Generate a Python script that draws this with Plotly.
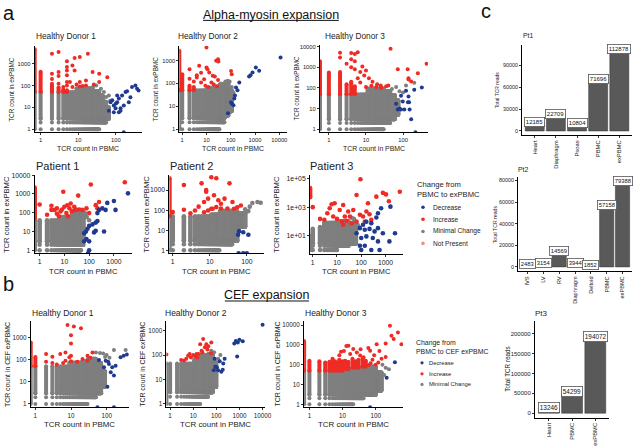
import plotly.graph_objects as go

W, H = 639, 447
FONT = "Liberation Sans, Arial, sans-serif"
RED, BLUE, GRAY, SALMON = "#EE2B24", "#1F3A8F", "#7F7F7F", "#F4907E"
BARC = "#595959"
TXT = "#222222"

# ======================= DATA =======================
# Scatter data: PBMC count (x) vs expanded count (y). 0 = not detected (drawn on the axis edge, like ggplot -Inf)
# *_GRAY_COLS: (x_from, x_to, y_from, y_to) integer-count columns of "Minimal Change" clonotypes
# *_RUNS: (x, y_from, y_to) dense stacks of clonotypes at one PBMC count

# ---- a: Healthy Donor 1 ----
A1_GRAY_COLS = [(1, 8, 1, 50), (9, 24, 1, 75), (25, 36, 1, 55), (37, 45, 2, 35), (46, 55, 2, 18), (56, 65, 3, 10)]
A1_GRAY_RUNS = [(0, 1, 50)]
A1_GRAY_PTS = [(48, 50), (65, 35), (30, 100), (40, 70), (70, 20), (25, 90), (55, 30)]
A1_RED_RUNS = [(0, 50, 4500), (1, 50, 420), (2, 50, 100), (3, 50, 80), (4, 50, 65), (5, 50, 60)]
A1_RED_PTS = [(2, 2800), (3, 3400), (5, 1270), (8, 1800), (11, 2000), (18, 2800), (5, 700), (7, 830), (5, 490),
              (8, 490), (3, 410), (5, 290), (3, 270), (2, 340), (5, 144), (6, 144), (11, 144), (16, 170), (24, 410),
              (36, 340), (59, 240), (16, 100), (11, 90), (26, 110), (7, 84), (5, 100), (3, 120), (2, 120), (2, 200),
              (4, 84), (36, 144), (9, 110), (13, 95)]
A1_BLUE_PTS = [(65, 7), (88, 12), (108, 17), (80, 21), (120, 25), (98, 9), (133, 9), (162, 12), (146, 35), (180, 50),
               (243, 29), (268, 84), (330, 100), (365, 70), (400, 59), (220, 17), (88, 6), (120, 6), (133, 7),
               (100, 15), (72, 17), (108, 35), (198, 54), (162, 0)]

# ---- a: Healthy Donor 2 ----
A2_GRAY_COLS = [(1, 10, 1, 50), (11, 34, 1, 65), (35, 55, 2, 90), (56, 80, 4, 100), (81, 110, 6, 50)]
A2_GRAY_RUNS = [(0, 1, 50)]
A2_GRAY_PTS = [(75, 130), (90, 120), (110, 70), (130, 40), (60, 120), (40, 100)]
A2_RED_RUNS = [(0, 50, 2700), (1, 50, 250), (2, 50, 80), (3, 50, 70)]
A2_RED_PTS = [(2, 420), (4, 230), (5, 590), (4, 180), (6, 110), (10, 3700), (11, 420), (6, 290), (8, 154), (16, 110),
              (22, 200), (25, 980), (10, 500), (13, 300), (18, 215), (30, 1140), (31, 900), (30, 140), (103, 350),
              (110, 250), (9, 80), (20, 90), (3, 120), (2, 160), (12, 70), (27, 75)]
A2_BLUE_PTS = [(11300, 1350), (1080, 500), (1480, 360), (790, 300), (650, 230), (570, 200), (225, 110), (165, 67),
               (190, 50), (103, 15), (77, 5), (110, 13), (130, 11), (150, 30), (140, 22)]

# ---- a: Healthy Donor 3 ----
A3_GRAY_COLS = [(1, 10, 1, 50), (11, 30, 1, 95), (31, 45, 2, 70), (46, 60, 3, 45), (61, 75, 5, 25)]
A3_GRAY_RUNS = [(0, 1, 50)]
A3_GRAY_PTS = [(50, 90), (65, 110), (80, 70), (100, 60), (200, 180), (120, 130)]
A3_RED_RUNS = [(0, 50, 2000), (1, 50, 560), (2, 50, 600), (3, 50, 150), (4, 50, 200), (5, 50, 120)]
A3_RED_PTS = [(2, 5100), (4, 5000), (5, 4500), (6, 5500), (2, 3000), (4, 2500), (5, 2000), (3, 1500), (4, 1000),
              (5, 800), (7, 600), (8, 1100), (10, 700), (7, 184), (10, 110), (14, 127), (19, 110), (26, 100),
              (12, 300), (15, 200), (20, 150), (25, 130), (35, 120), (46, 8000), (430, 1500), (250, 520),
              (133, 800), (165, 205), (140, 300), (72, 800), (140, 260), (40, 130), (9, 400), (6, 300)]
A3_BLUE_PTS = [(65, 17), (80, 10), (108, 9), (200, 82), (145, 20), (320, 105), (120, 73), (88, 42), (140, 39),
               (98, 22), (135, 20), (72, 9), (88, 9), (150, 9), (165, 3), (215, 0)]

# ---- a: Patient 1 ----
B1_GRAY_COLS = [(1, 6, 1, 40), (7, 20, 1, 60), (21, 46, 1, 100), (47, 58, 2, 80)]
B1_GRAY_RUNS = [(0, 1, 40)]
B1_GRAY_PTS = [(40, 120), (60, 110), (80, 60), (100, 40), (30, 130), (70, 90)]
B1_RED_RUNS = [(0, 50, 2200)]
B1_RED_PTS = [(1, 275), (3, 235), (9, 1320), (5, 172), (4, 142), (7, 117), (5, 89), (10, 210), (12, 96), (16, 172),
              (18, 310), (25, 210), (36, 820), (117, 3200), (184, 255), (250, 375), (215, 172), (14, 65), (40, 150),
              (54, 142), (78, 172), (100, 96), (2750, 4200), (26, 140), (6, 65), (3, 142), (2, 79), (8, 150),
              (20, 120), (30, 150), (13, 250)]
B1_BLUE_PTS = [(3700, 1080), (1000, 420), (1160, 142), (540, 335), (250, 142), (340, 172), (460, 142), (215, 96),
               (184, 30), (136, 24), (100, 20), (86, 14), (74, 10), (63, 8), (78, 4), (63, 3), (100, 3), (158, 9),
               (215, 36), (184, 11), (400, 10), (100, 1), (90, 0)]

# ---- a: Patient 2 ----
B2_GRAY_COLS = [(1, 10, 1, 50), (11, 18, 1, 60), (19, 40, 2, 90), (41, 55, 3, 85), (56, 90, 15, 70)]
B2_GRAY_RUNS = [(0, 1, 50)]
B2_GRAY_PTS = [(141, 226), (194, 255), (237, 235), (120, 150), (90, 110), (110, 90)]
B2_RED_RUNS = [(0, 50, 3900)]
B2_RED_PTS = [(1, 80), (2, 1780), (2, 104), (4, 96), (7, 255), (8, 820), (9, 96), (12, 117), (15, 142), (6, 2170),
              (8, 1000), (11, 4400), (15, 3900), (13, 550), (9, 375), (17, 310), (34, 2170), (20, 210), (25, 375),
              (41, 255), (45, 117), (69, 172), (30, 120), (11, 117), (7, 79), (3, 70), (5, 150), (20, 120), (55, 140)]
B2_BLUE_PTS = [(62, 9), (80, 8), (58, 6), (110, 6), (60, 0), (80, 0), (100, 0)]

# ---- a: Patient 3 ----
B3_GRAY_COLS = [(1, 1, 1, 30), (2, 2, 1, 40), (3, 10, 1, 80), (11, 30, 2, 100), (31, 60, 3, 70)]
B3_GRAY_RUNS = [(0, 1, 10)]
B3_GRAY_PTS = [(70, 60), (80, 40), (50, 150), (40, 180)]
B3_RED_RUNS = [(0, 5000, 22000)]
B3_RED_PTS = [(93, 89000), (6, 1580), (8, 1850), (13, 630), (18, 1400), (29, 490), (47, 630), (64, 7000), (21, 220),
              (7, 220), (4, 370), (3, 130), (2, 150), (10, 150), (16, 99), (25, 110), (34, 220), (88, 290),
              (119, 220), (163, 490), (220, 320), (140, 99), (260, 130), (190, 1850), (780, 10000), (1050, 7800),
              (3900, 12000), (1380, 2600), (420, 5400), (5, 830), (18, 58), (40, 76), (64, 99), (1, 1000)]
B3_BLUE_PTS = [(1600, 1080), (660, 830), (490, 370), (420, 190), (260, 76), (163, 95), (119, 58), (88, 34), (140, 26),
               (220, 30), (355, 20), (490, 34), (780, 15), (100, 7), (163, 9), (300, 7), (490, 4), (1450, 4),
               (2470, 15), (88, 2), (140, 2), (260, 1), (100, 1), (64, 15), (570, 1)]

# ---- b: Healthy Donor 1 (CEF) ----
C1_GRAY_COLS = [(1, 8, 1, 50), (9, 20, 1, 75), (21, 29, 1, 85), (30, 50, 2, 110), (51, 70, 3, 70), (71, 90, 6, 30)]
C1_GRAY_RUNS = [(0, 1, 50)]
C1_GRAY_PTS = [(50, 210), (65, 200), (80, 190), (100, 160), (160, 270), (340, 270), (120, 120), (90, 130)]
C1_RED_RUNS = [(0, 50, 600), (1, 50, 130)]
C1_RED_PTS = [(8, 3700), (12, 3100), (19, 2600), (10, 1270), (10, 540), (7, 210), (5, 180), (2, 180), (3, 135),
              (9, 127), (10, 84), (21, 107), (29, 150), (40, 210), (29, 90), (10, 150), (7, 90), (6, 70), (4, 60),
              (15, 80), (2, 80), (3, 70), (35, 120)]
C1_BLUE_PTS = [(61, 96), (94, 90), (116, 64), (143, 45), (130, 27), (160, 19), (84, 45), (105, 6), (245, 127),
               (300, 150), (370, 170), (178, 53), (55, 0), (160, 0), (110, 80)]

# ---- b: Healthy Donor 2 (CEF) ----
C2_GRAY_COLS = [(1, 10, 1, 45), (11, 20, 1, 65), (21, 44, 2, 100), (45, 70, 3, 110), (71, 100, 5, 50)]
C2_GRAY_RUNS = [(0, 1, 45)]
C2_GRAY_PTS = [(60, 150), (80, 130), (120, 70), (150, 100)]
C2_RED_RUNS = []
C2_RED_PTS = [(0, 105), (3, 63), (6, 95), (7, 110), (8, 80), (14, 110), (15, 80), (17, 110), (27, 450), (37, 280),
              (41, 170), (45, 230), (59, 120), (61, 330), (32, 210), (23, 150), (20, 280), (10, 100), (12, 90),
              (5, 70), (4, 60), (25, 130)]
C2_BLUE_PTS = [(10100, 1740), (1400, 365), (850, 330), (800, 87), (230, 70), (140, 56), (105, 32), (120, 24),
               (190, 25), (165, 21), (85, 70), (90, 33), (78, 24), (600, 300), (700, 380), (1000, 420), (200, 45)]

# ---- b: Healthy Donor 3 (CEF) ----
C3_GRAY_COLS = [(1, 10, 1, 50), (11, 21, 1, 60), (22, 43, 2, 70), (44, 100, 3, 80), (101, 150, 5, 40)]
C3_GRAY_RUNS = [(0, 1, 50)]
C3_GRAY_PTS = [(160, 100), (200, 70), (250, 60), (180, 30)]
C3_RED_RUNS = [(0, 50, 1600), (1, 50, 160), (2, 50, 150), (3, 50, 130), (4, 50, 140), (5, 50, 200), (6, 50, 150),
               (7, 50, 120), (8, 50, 180), (10, 50, 150), (12, 60, 160), (15, 60, 140), (20, 70, 200), (25, 70, 150),
               (30, 70, 180), (40, 80, 200), (50, 80, 150)]
C3_RED_PTS = [(15, 920), (21, 620), (27, 420), (34, 290), (43, 240), (17, 350), (107, 1100), (270, 9300),
              (470, 4300), (600, 1100), (300, 2900), (68, 510), (43, 130), (120, 130), (50, 160), (150, 200),
              (200, 250), (90, 300), (60, 700), (13, 900), (11, 500), (80, 180), (35, 600), (130, 500), (200, 1200),
              (350, 2000), (8, 300), (9, 450), (70, 120), (100, 100), (60, 95)]
C3_BLUE_PTS = [(380, 133), (215, 22), (68, 0)]

# ---- tick labels of scatter panels ----
XT_A1 = [1, 10, 100]; YT_A1 = [1, 10, 100, 1000]
XT_A2 = [1, 10, 100, 1000, 10000]; YT_A2 = [1, 10, 100, 1000]
XT_A3 = [1, 10, 100]; YT_A3 = [1, 10, 100, 1000, 10000]
XT_B1 = [1, 10, 100, 1000]; YT_B1 = [1, 10, 100, 1000, 10000]
XT_B2 = [1, 10, 100]; YT_B2 = [1, 10, 100, 1000]
XT_B3 = [1, 10, 100, 1000]; YT_B3 = [10, 1000, 100000]; YT_B3_TEXT = ["1e+01", "1e+03", "1e+05"]
XT_C1 = [1, 10, 100]; YT_C1 = [1, 10, 100, 1000]
XT_C2 = [1, 10, 100, 1000, 10000]; YT_C2 = [1, 10, 100, 1000]
XT_C3 = [1, 10, 100]; YT_C3 = [1, 10, 100, 1000, 10000]

PANEL_TITLES_A = ["Healthy Donor 1", "Healthy Donor 2", "Healthy Donor 3", "Patient 1", "Patient 2", "Patient 3"]
PANEL_TITLES_B = ["Healthy Donor 1", "Healthy Donor 2", "Healthy Donor 3"]

# ---- c: total TCR reads ----
PT1_CATS = ["Heart", "Diaphragm", "Psoas", "PBMC", "exPBMC"]
PT1_VALS = [12185, 22709, 10804, 71696, 112878]
PT2_CATS = ["IVS", "LV", "RV", "Diaphragm", "Deltoid", "PBMC", "exPBMC"]
PT2_VALS = [2483, 3154, 14569, 3944, 1852, 57158, 79388]
PT3_CATS = ["Heart", "PBMC", "exPBMC"]
PT3_VALS = [13246, 54299, 194072]
PT1_YT = [0, 30000, 60000, 90000]
PT2_YT = [0, 20000, 40000, 60000, 80000]
PT3_YT = [0, 50000, 100000, 150000, 200000]

LEGEND_A = [("Decrease", BLUE), ("Increase", RED), ("Minimal Change", GRAY), ("Not Present", SALMON)]
LEGEND_B = [("Decrease", BLUE), ("Increase", RED), ("Minimal Change", GRAY)]

# ======================= FIGURE =======================
fig = go.Figure()
layout = dict(width=W, height=H, margin=dict(l=0, r=0, t=0, b=0), paper_bgcolor="white",
              plot_bgcolor="rgba(0,0,0,0)", showlegend=False, font=dict(family=FONT, color=TXT))
ann, shapes = [], []


def fx(p):
    return p / W


def fy(p):
    return 1 - p / H


def names(i):
    return ("x" if i == 1 else f"x{i}"), ("y" if i == 1 else f"y{i}")


def key(i, a):
    return f"{a}axis" + ("" if i == 1 else str(i))


def base_axis(fs):
    return dict(showline=True, linecolor="black", linewidth=1, ticks="outside", ticklen=2, tickwidth=0.8,
                tickcolor="black", showgrid=False, zeroline=False, fixedrange=True,
                tickfont=dict(size=fs, color=TXT, family=FONT))


def text(x, y, s, size, xanchor="left", angle=0, color=TXT):
    ann.append(dict(x=fx(x), y=fy(y), xref="paper", yref="paper", text=s, showarrow=False, xanchor=xanchor,
                    yanchor="middle", textangle=angle, borderpad=0,
                    font=dict(size=size, color=color, family=FONT)))


def scatter_panel(i, data, geo, st):
    cols, gruns, gpts, rruns, rpts, bpts = data
    xa, ya = names(i)
    xr, yr = geo["xr"], geo["yr"]
    xe, ye = 10 ** xr[0], 10 ** yr[0]
    ex = lambda v: xe if v == 0 else v
    ey = lambda v: ye if v == 0 else v
    ms = st["ms"]
    mx, my, lx, ly = [], [], [], []
    for (x0, x1, y0, y1) in cols:
        for x in range(x0, x1 + 1):
            for y in range(y0, min(y1, 3) + 1):
                mx.append(x); my.append(y)
            lo = max(y0, 3)
            if y1 > lo:
                lx += [x, x, None]; ly += [lo, y1, None]
                mx += [x, x]; my += [lo, y1]

    def runs(rs):
        rx, ry, qx, qy = [], [], [], []
        for (x, y0, y1) in rs:
            rx += [ex(x), ex(x), None]; ry += [y0, y1, None]
            qx += [ex(x), ex(x)]; qy += [y0, y1]
        return rx, ry, qx, qy

    grx, gry, gqx, gqy = runs(gruns)
    rrx, rry, rqx, rqy = runs(rruns)
    common = dict(xaxis=xa, yaxis=ya, hoverinfo="skip")
    fig.add_trace(go.Scatter(x=lx + grx, y=ly + gry, mode="lines", line=dict(color=GRAY, width=ms), **common))
    fig.add_trace(go.Scatter(x=mx + gqx + [ex(p[0]) for p in gpts], y=my + gqy + [ey(p[1]) for p in gpts],
                             mode="markers", marker=dict(color=GRAY, size=ms, line=dict(width=0)), **common))
    if rrx:
        fig.add_trace(go.Scatter(x=rrx, y=rry, mode="lines", line=dict(color=RED, width=ms), **common))
    fig.add_trace(go.Scatter(x=rqx + [ex(p[0]) for p in rpts], y=rqy + [ey(p[1]) for p in rpts], mode="markers",
                             marker=dict(color=RED, size=ms, line=dict(width=0)), **common))
    fig.add_trace(go.Scatter(x=[ex(p[0]) for p in bpts], y=[ey(p[1]) for p in bpts], mode="markers",
                             marker=dict(color=BLUE, size=ms, line=dict(width=0)), **common))
    xax = base_axis(st["tick"])
    xax.update(domain=[fx(geo["x"][0]), fx(geo["x"][1])], anchor=ya, type="log", range=list(xr),
               tickvals=geo["xt"], ticktext=[str(v) for v in geo["xt"]])
    yax = base_axis(st["tick"])
    yax.update(domain=[fy(geo["y"][1]), fy(geo["y"][0])], anchor=xa, type="log", range=list(yr),
               tickvals=geo["yt"], ticktext=geo.get("ytext", [str(v) for v in geo["yt"]]))
    layout[key(i, "x")] = xax
    layout[key(i, "y")] = yax
    # titles
    text(geo["tx"], geo["ty"], geo["title"], st["title"])
    text((geo["x"][0] + geo["x"][1]) / 2, st["xty"], "TCR count in PBMC", st["xt"], xanchor="center")
    text(geo["ytx"], (geo["y"][0] + geo["y"][1]) / 2, st["ylab"], st["yt"], xanchor="center", angle=-90)


ST_A1 = dict(tick=5.8, xt=6.9, yt=6.4, title=8.3, ms=4.0, xty=146.5, ylab="TCR count in exPBMC")
ST_A2 = dict(tick=6.8, xt=7.6, yt=7.6, title=11.0, ms=4.6, xty=270, ylab="TCR count in exPBMC")
ST_B = dict(tick=6.3, xt=7.9, yt=6.9, title=8.5, ms=4.0, xty=424, ylab="TCR count in CEF exPBMC")

panels = [
    (1, (A1_GRAY_COLS, A1_GRAY_RUNS, A1_GRAY_PTS, A1_RED_RUNS, A1_RED_PTS, A1_BLUE_PTS),
     dict(x=(35, 143), y=(43, 130), xr=(-0.158, 2.684), yr=(-0.136, 3.82), xt=XT_A1, yt=YT_A1,
          title=PANEL_TITLES_A[0], tx=35, ty=33, ytx=12), ST_A1),
    (2, (A2_GRAY_COLS, A2_GRAY_RUNS, A2_GRAY_PTS, A2_RED_RUNS, A2_RED_PTS, A2_BLUE_PTS),
     dict(x=(181, 290), y=(43, 130), xr=(-0.12, 4.33), yr=(-0.13, 3.65), xt=XT_A2, yt=YT_A2,
          title=PANEL_TITLES_A[1], tx=179, ty=33, ytx=157), ST_A1),
    (3, (A3_GRAY_COLS, A3_GRAY_RUNS, A3_GRAY_PTS, A3_RED_RUNS, A3_RED_PTS, A3_BLUE_PTS),
     dict(x=(323, 432), y=(42, 130), xr=(-0.24, 2.67), yr=(-0.145, 4.1), xt=XT_A3, yt=YT_A3,
          title=PANEL_TITLES_A[2], tx=327, ty=33, ytx=299), ST_A1),
    (4, (B1_GRAY_COLS, B1_GRAY_RUNS, B1_GRAY_PTS, B1_RED_RUNS, B1_RED_PTS, B1_BLUE_PTS),
     dict(x=(35, 133), y=(173, 252), xr=(-0.2, 3.72), yr=(-0.16, 4.02), xt=XT_B1, yt=YT_B1,
          title=PANEL_TITLES_A[3], tx=35, ty=164, ytx=6), ST_A2),
    (5, (B2_GRAY_COLS, B2_GRAY_RUNS, B2_GRAY_PTS, B2_RED_RUNS, B2_RED_PTS, B2_BLUE_PTS),
     dict(x=(171, 266), y=(173, 252), xr=(-0.09, 2.45), yr=(-0.15, 3.76), xt=XT_B2, yt=YT_B2,
          title=PANEL_TITLES_A[4], tx=171, ty=164, ytx=147), ST_A2),
    (6, (B3_GRAY_COLS, B3_GRAY_RUNS, B3_GRAY_PTS, B3_RED_RUNS, B3_RED_PTS, B3_BLUE_PTS),
     dict(x=(313, 407), y=(173, 253), xr=(-0.11, 3.73), yr=(-0.3, 5.26), xt=XT_B3, yt=YT_B3, ytext=YT_B3_TEXT,
          title=PANEL_TITLES_A[5], tx=312, ty=164, ytx=279), ST_A2),
    (7, (C1_GRAY_COLS, C1_GRAY_RUNS, C1_GRAY_PTS, C1_RED_RUNS, C1_RED_PTS, C1_BLUE_PTS),
     dict(x=(31, 130), y=(320, 407), xr=(-0.13, 2.62), yr=(-0.15, 3.75), xt=XT_C1, yt=YT_C1,
          title=PANEL_TITLES_B[0], tx=31, ty=312.5, ytx=7), ST_B),
    (8, (C2_GRAY_COLS, C2_GRAY_RUNS, C2_GRAY_PTS, C2_RED_RUNS, C2_RED_PTS, C2_BLUE_PTS),
     dict(x=(168, 268), y=(320, 407), xr=(-0.16, 4.13), yr=(-0.134, 3.4), xt=XT_C2, yt=YT_C2,
          title=PANEL_TITLES_B[1], tx=166, ty=312.5, ytx=143), ST_B),
    (9, (C3_GRAY_COLS, C3_GRAY_RUNS, C3_GRAY_PTS, C3_RED_RUNS, C3_RED_PTS, C3_BLUE_PTS),
     dict(x=(307, 407), y=(320, 407), xr=(-0.16, 2.83), yr=(-0.15, 4.22), xt=XT_C3, yt=YT_C3,
          title=PANEL_TITLES_B[2], tx=307, ty=312, ytx=280), ST_B),
]
for p in panels:
    scatter_panel(*p)

# ---------------- bar panels (c) ----------------
bars = [
    (10, PT1_CATS, PT1_VALS, PT1_YT, "Pt1", dict(x=(527, 638), y=(42, 133), yr=(-5644, 118522), tx=527, ty=33,
                                                 ytx=502, tf=5.4, cf=5.8, lf=6.0, titf=6.8, ytf=5.0)),
    (11, PT2_CATS, PT2_VALS, PT2_YT, "Pt2", dict(x=(523, 638), y=(175, 270), yr=(-3969, 83357), tx=522, ty=168,
                                                 ytx=500, tf=5.4, cf=5.6, lf=5.8, titf=6.8, ytf=5.2)),
    (12, PT3_CATS, PT3_VALS, PT3_YT, "Pt3", dict(x=(540, 615), y=(320.6, 417.4), yr=(-11000, 231000), tx=539,
                                                 ty=313, ytx=512, tf=6.0, cf=5.8, lf=6.4, titf=8.0, ytf=6.3)),
]
for (i, cats, vals, yt, title, g) in bars:
    xa, ya = names(i)
    fig.add_trace(go.Bar(x=cats, y=vals, width=0.9, marker=dict(color=BARC, line=dict(color="#333333", width=0.5)),
                         xaxis=xa, yaxis=ya, hoverinfo="skip"))
    xax = base_axis(g["cf"])
    xax.update(domain=[fx(g["x"][0]), fx(g["x"][1])], anchor=ya, type="category", range=[-0.6, len(cats) - 0.4],
               tickangle=-90)
    yax = base_axis(g["tf"])
    yax.update(domain=[fy(g["y"][1]), fy(g["y"][0])], anchor=xa, range=list(g["yr"]), tickvals=yt,
               ticktext=[str(v) for v in yt])
    layout[key(i, "x")] = xax
    layout[key(i, "y")] = yax
    for c, v in zip(cats, vals):
        ann.append(dict(x=c, y=v, xref=xa, yref=ya, text=str(v), showarrow=False, bgcolor="white",
                        bordercolor="#555555", borderwidth=0.8, borderpad=1,
                        font=dict(size=g["lf"], color="#111111", family=FONT)))
    text(g["tx"], g["ty"], title, g["titf"])
    text(g["ytx"], (g["y"][0] + g["y"][1]) / 2, "Total TCR reads", g["ytf"], xanchor="center", angle=-90)

# ---------------- headings ----------------
text(9, 10, "a", 20, xanchor="center", color="#111111")
text(9, 283, "b", 20, xanchor="center", color="#111111")
text(491, 8, "c", 20, xanchor="center", color="#111111")
text(273.5, 12, "Alpha-myosin expansion", 12.5, xanchor="center", color="#111111")
text(269.5, 294, "CEF expansion", 12.5, xanchor="center", color="#111111")
shapes.append(dict(type="line", xref="paper", yref="paper", x0=fx(205), x1=fx(342), y0=fy(17.5), y1=fy(17.5),
                   line=dict(color="#111111", width=1)))
shapes.append(dict(type="line", xref="paper", yref="paper", x0=fx(227), x1=fx(312), y0=fy(300), y1=fy(300),
                   line=dict(color="#111111", width=1)))


# ---------------- legends ----------------
def legend(items, x_title, y_title, line2, tsize, mx, tx, ys, isize, d):
    text(x_title, y_title, "Change from", tsize)
    text(x_title, y_title + (9.6 if tsize > 7 else 8), line2, tsize)
    for (lab, col), yy in zip(items, ys):
        shapes.append(dict(type="circle", xref="paper", yref="paper", x0=fx(mx - d / 2), x1=fx(mx + d / 2),
                           y0=fy(yy + d / 2), y1=fy(yy - d / 2), fillcolor=col, line=dict(width=0)))
        text(tx, yy, lab, isize)


legend(LEGEND_A, 420, 183, "PBMC to exPBMC", 7.6, 427, 436, [205.7, 217.7, 230, 242], 6.6, 3.6)
legend(LEGEND_B, 419, 342.7, "PBMC to CEF exPBMC", 6.9, 426, 432.5, [362.3, 373.3, 384], 5.8, 3.2)

layout["annotations"] = ann
layout["shapes"] = shapes
fig.update_layout(**layout)
fig.write_html("out.html", config={"displayModeBar": False, "staticPlot": True},
               post_script="document.body.style.margin='0';document.body.style.overflow='hidden';")
